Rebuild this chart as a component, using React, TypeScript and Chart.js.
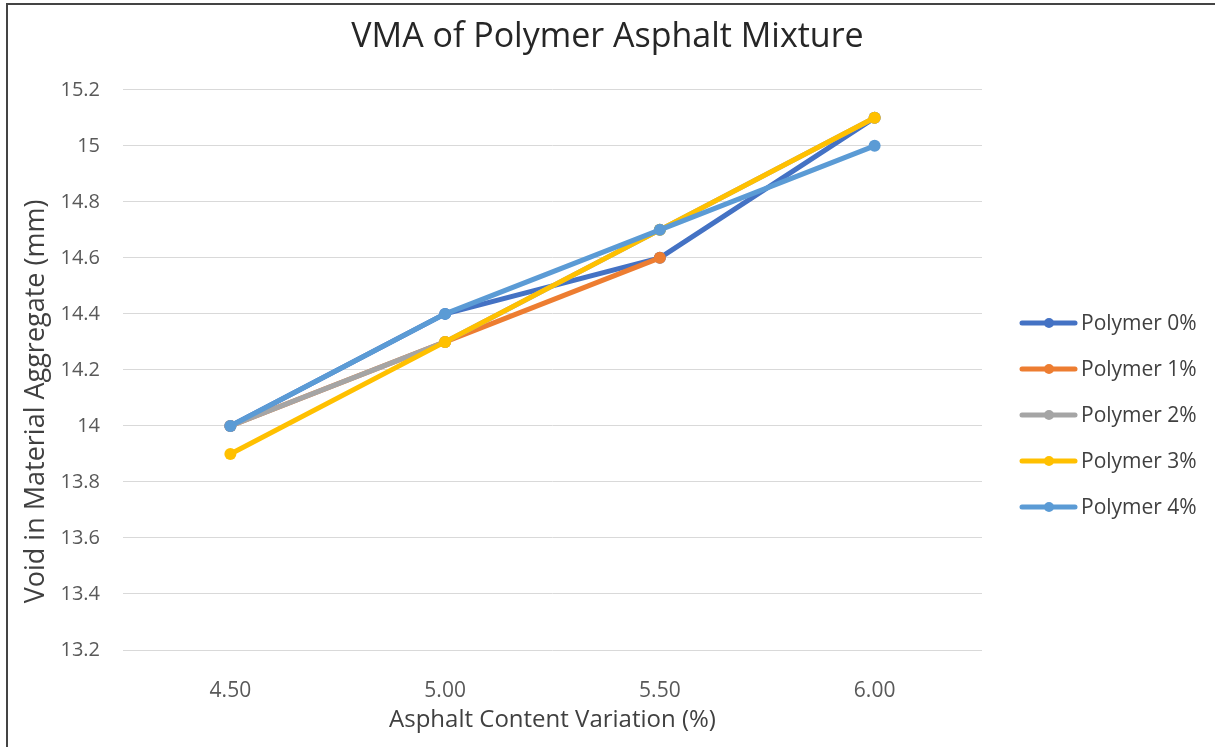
import React, { useEffect, useRef } from "react";
import { Chart, registerables, layouts } from "chart.js";

Chart.register(...registerables);

const categories = ["4.50", "5.00", "5.50", "6.00"];
const seriesNames = ["Polymer 0%", "Polymer 1%", "Polymer 2%", "Polymer 3%", "Polymer 4%"];
const polymer0 = [14.0, 14.4, 14.6, 15.1];
const polymer1 = [14.0, 14.3, 14.6, null];
const polymer2 = [14.0, 14.3, 14.7, 15.1];
const polymer3 = [13.9, 14.3, 14.7, 15.1];
const polymer4 = [14.0, 14.4, 14.7, 15.0];
const seriesValues = [polymer0, polymer1, polymer2, polymer3, polymer4];
const seriesColors = ["#4472C4", "#ED7D31", "#A5A5A5", "#FFC000", "#5B9BD5"];
const yTickMin = 13.2;
const yTickMax = 15.2;
const yTickStep = 0.2;

const FONT = "'Open Sans', 'Noto Sans', sans-serif";

const legendPlugin = {
  id: "excelLegend",
  beforeInit(chart: any) {
    const box: any = {
      position: "right",
      weight: 100,
      fullSize: false,
      options: {},
      left: 0,
      top: 0,
      right: 0,
      bottom: 0,
      width: 0,
      height: 0,
      isHorizontal() {
        return false;
      },
      update(_maxW: number, maxH: number) {
        this.width = 233;
        this.height = maxH;
      },
      draw() {},
    };
    layouts.addBox(chart, box);
  },
  afterDraw(chart: any) {
    const ctx = chart.ctx;
    const area = chart.chartArea;
    const ds = chart.data.datasets;
    const gap = 46;
    const centerY = 415;
    const startY = centerY - ((ds.length - 1) * gap) / 2;
    const x0 = area.right + 38;
    ctx.save();
    ds.forEach((d: any, i: number) => {
      const y = startY + i * gap;
      ctx.strokeStyle = d.borderColor;
      ctx.lineWidth = 5;
      ctx.lineCap = "round";
      ctx.beginPath();
      ctx.moveTo(x0 + 2, y);
      ctx.lineTo(x0 + 55, y);
      ctx.stroke();
      ctx.fillStyle = d.borderColor;
      ctx.beginPath();
      ctx.arc(x0 + 29, y, 5, 0, Math.PI * 2);
      ctx.fill();
      ctx.fillStyle = "#404040";
      ctx.font = `21px ${FONT}`;
      ctx.textBaseline = "middle";
      ctx.textAlign = "left";
      ctx.fillText(d.label, x0 + 61, y + 1);
    });
    ctx.restore();
  },
};

export default function App() {
  const ref = useRef<HTMLCanvasElement | null>(null);

  useEffect(() => {
    if (!ref.current) return;
    const chart = new Chart(ref.current, {
      type: "line",
      data: {
        labels: categories,
        datasets: seriesNames.map((name, i) => ({
          label: name,
          data: seriesValues[i],
          borderColor: seriesColors[i],
          backgroundColor: seriesColors[i],
          borderWidth: 5,
          pointRadius: 6,
          pointHoverRadius: 6,
          pointBorderWidth: 0,
          tension: 0,
          spanGaps: false,
          order: seriesNames.length - i,
        })),
      },
      options: {
        responsive: false,
        animation: false,
        events: [],
        layout: { padding: { left: 0, right: 0, top: 0, bottom: 0 } },
        plugins: {
          legend: { display: false },
          tooltip: { enabled: false },
          title: {
            display: true,
            text: "VMA of Polymer Asphalt Mixture",
            color: "#262626",
            font: { family: FONT, size: 34, weight: "normal" },
            padding: { top: 17, bottom: 32 },
          },
        },
        scales: {
          x: {
            type: "category",
            offset: true,
            grid: { display: false },
            border: { display: false },
            ticks: {
              color: "#595959",
              font: { family: FONT, size: 21 },
              padding: 20,
              maxRotation: 0,
            },
            title: {
              display: true,
              text: "Asphalt Content Variation (%)",
              color: "#404040",
              font: { family: FONT, size: 24 },
              padding: { top: 0, bottom: 12 },
            },
            afterFit: (s: any) => {
              s.height = 97;
            },
          },
          y: {
            type: "linear",
            min: yTickMin,
            max: yTickMax,
            grid: { color: "#d9d9d9", lineWidth: 1, drawTicks: false },
            border: { display: false },
            ticks: {
              stepSize: yTickStep,
              color: "#595959",
              font: { family: FONT, size: 20 },
              padding: 23,
              callback: (v: any) => String(Number(Number(v).toFixed(1))),
            },
            title: {
              display: true,
              text: "Void in Material Aggregate (mm)         ",
              color: "#404040",
              font: { family: FONT, size: 27 },
              padding: { top: 20, bottom: 0 },
            },
            afterFit: (s: any) => {
              s.width = 123;
            },
          },
        },
      },
      plugins: [legendPlugin],
    });
    return () => chart.destroy();
  }, []);

  return (
    <div style={{ position: "fixed", left: 0, top: 0, width: 1215, height: 747, background: "#fff" }}>
      <canvas ref={ref} width={1215} height={747} style={{ display: "block" }} />
      <div style={{ position: "absolute", left: 6, top: 3, right: 0, height: 2, background: "#444" }} />
      <div style={{ position: "absolute", left: 6, top: 3, width: 2, bottom: 0, background: "#444" }} />
    </div>
  );
}
